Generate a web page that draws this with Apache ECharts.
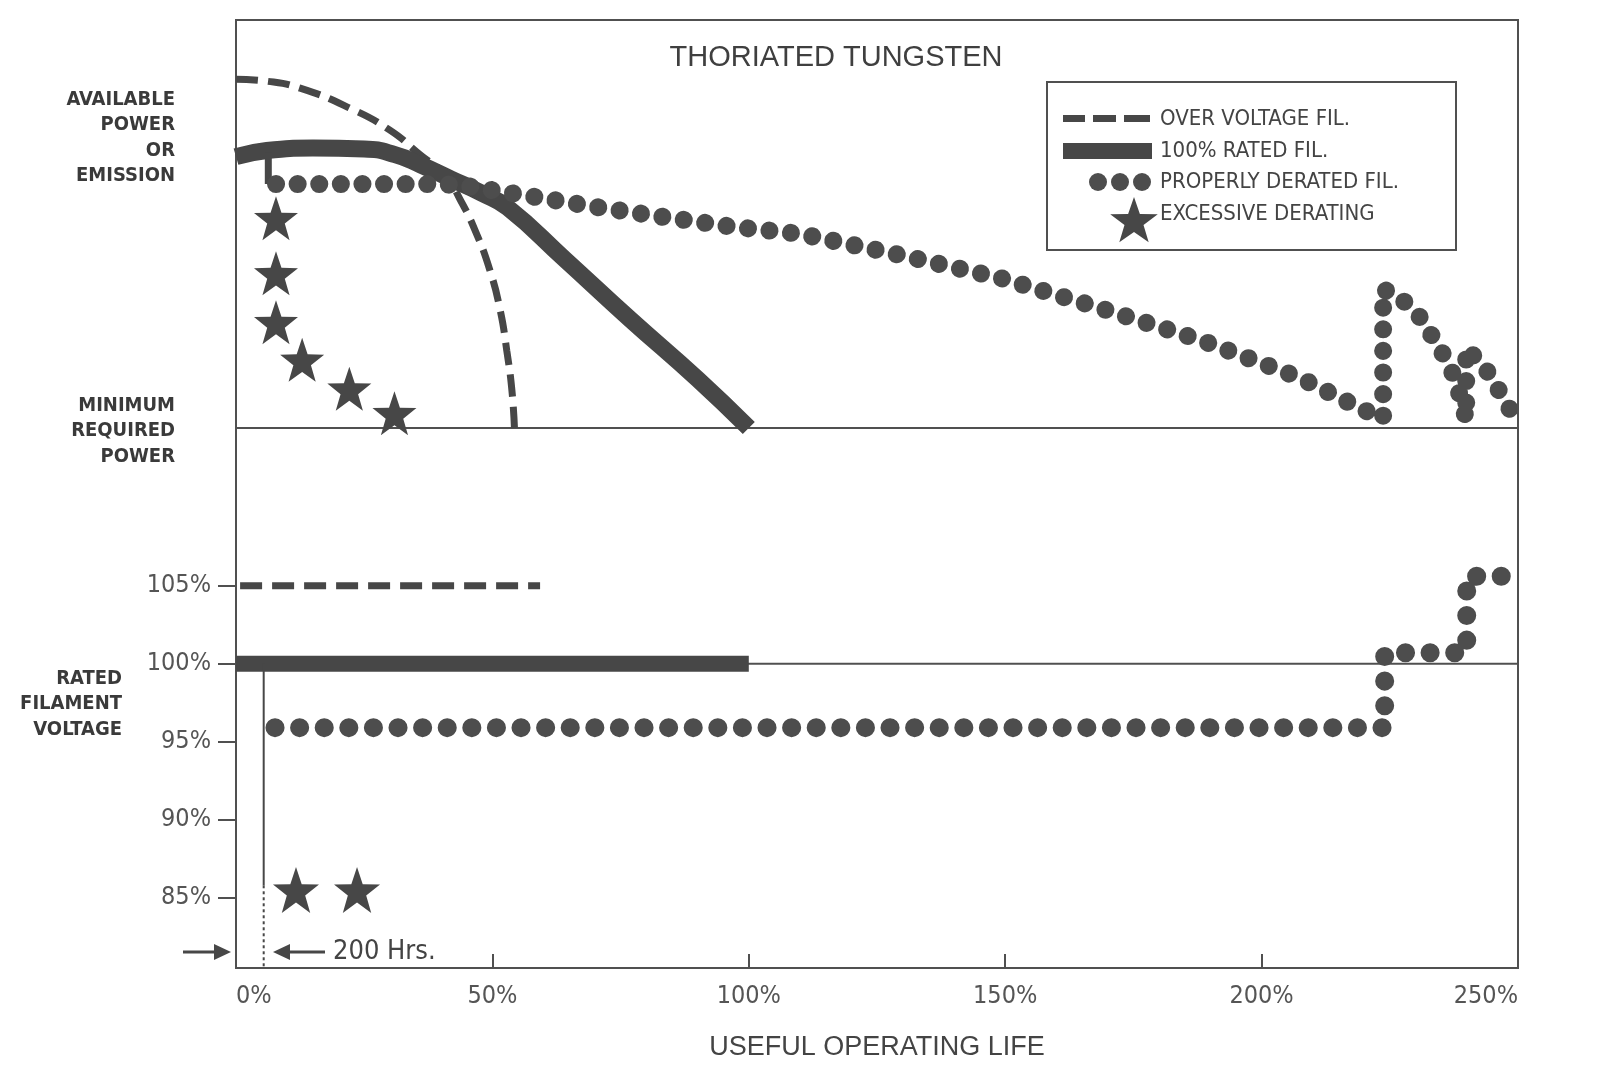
<!DOCTYPE html>
<html>
<head>
<meta charset="utf-8">
<script src="https://cdn.jsdelivr.net/npm/echarts@6/dist/echarts.min.js"></script>
<style>
html,body{margin:0;padding:0;background:#fff;}
#chart{width:1600px;height:1083px;}
</style>
</head>
<body>
<div id="chart"></div>
<script>
// ---------- DATA ----------
const xTicks = [0, 50, 100, 150, 200, 250];
const voltTicks = [85, 90, 95, 100, 105];
const legendNames = ['OVER VOLTAGE FIL.', '100% RATED FIL.', 'PROPERLY DERATED FIL.', 'EXCESSIVE DERATING'];

// upper panel: available power / emission (0 = minimum required power)
const overVoltPower = [[0,85.5],[6,85],[12.5,83.3],[22.2,78.4],[30,73],[35.9,67],[40.8,62],[43.7,56],[46.6,48.5],[49.5,38.7],[51.5,29],[52.8,19],[53.8,9.3],[54.3,0]];
const ratedPower = [[0,66.5],[6,68],[15,68.6],[25,68.4],[31,67],[36,64.5],[42,61],[48,57.5],[53,54],[64,41.5],[77,26.5],[90,12],[100,0]];
const deratedPower = [[7.8,59.8],[25,59.8],[40,59.8],[45,59.3],[57,56.9],[70,54.2],[83,51.8],[97,49.3],[110,47.6],[129.5,42.4],[149,36.8],[168.5,29.4],[188,21.6],[207.5,12.3],[219,5],[223.7,2.2],[223.7,34],[227,32],[231,27],[235,19],[237.7,12.3],[239.9,2.2],[239.9,19.6],[243.6,14.7],[246,9.8],[248.5,4.4]];
const deratedBranch = [[6.3,67.5],[6.3,59.8]];
const excessivePower = [[7.8,51.4],[7.8,37.9],[7.8,25.9],[12.9,16.7],[22.1,9.6],[30.9,3.6]];

// lower panel: filament voltage (% of rated)
const overVoltVoltage = [[0.8,105],[59.3,105]];
const ratedVoltage = [[0,100],[100,100]];
const ratedReference = [[0,100],[250,100]];
const deratedVoltage = [[7.6,95.9],[224,95.9],[224,100.7],[240,100.7],[240,105.6],[248.5,105.6]];
const excessiveVoltage = [[11.7,85.5],[23.6,85.5]];
const hrs200Solid = [[5.4,100],[5.4,85.8]];
const hrs200Dotted = [[5.4,85.8],[5.4,80.5]];

// ---------- STYLE ----------
const C = '#474747';
const AX = '#505050';
const NARROW = '"Liberation Sans Narrow","DejaVu Sans Condensed","Roboto Condensed",sans-serif';
const COND = '"DejaVu Sans Condensed","Liberation Sans Narrow",sans-serif';
const SANS = '"Liberation Sans",Arial,"Helvetica",sans-serif';
const STAR = 'path://M0,-50 L11.8,-16.2 L47.6,-15.5 L19,6.2 L29.4,40.5 L0,20 L-29.4,40.5 L-19,6.2 L-47.6,-15.5 L-11.8,-16.2 Z';

function starPoints(cx, cy, R) {
  const pts = [];
  const r = R * 0.40;
  for (let i = 0; i < 10; i++) {
    const a = -Math.PI / 2 + i * Math.PI / 5;
    const rr = i % 2 === 0 ? R : r;
    pts.push([cx + rr * Math.cos(a), cy + rr * Math.sin(a)]);
  }
  return pts;
}

const chart = echarts.init(document.getElementById('chart'), null, {renderer: 'canvas'});

const option = {
  backgroundColor: '#fff',
  animation: false,
  title: {
    text: 'THORIATED TUNGSTEN',
    left: 831, top: 38, textAlign: 'center',
    textStyle: {fontFamily: SANS, fontSize: 29, fontWeight: 'normal', color: '#3f3f3f'}
  },
  grid: [
    {left: 236, right: 82, top: 20, height: 408, show: true, borderColor: AX, borderWidth: 2, backgroundColor: 'transparent'},
    {left: 236, right: 82, top: 428, height: 540, show: true, borderColor: AX, borderWidth: 2, backgroundColor: 'transparent'}
  ],
  xAxis: [
    {type: 'value', gridIndex: 0, min: 0, max: 250, show: false},
    {type: 'value', gridIndex: 1, min: 0, max: 250, interval: 50,
     name: 'USEFUL OPERATING LIFE', nameLocation: 'middle', nameGap: 66,
     nameTextStyle: {fontFamily: SANS, fontSize: 27, color: '#444', fontWeight: 'normal'},
     axisLine: {show: false},
     axisTick: {show: true, inside: true, length: 14, lineStyle: {color: AX, width: 2}},
     splitLine: {show: false},
     axisLabel: {margin: 16, fontFamily: NARROW, fontSize: 25, color: '#555',
                 formatter: v => v + '%', alignMinLabel: 'left', alignMaxLabel: 'right',
                 customValues: xTicks}
    }
  ],
  yAxis: [
    {type: 'value', gridIndex: 0, min: 0, max: 100, show: false},
    {type: 'value', gridIndex: 1, min: 80.5, max: 115.1,
     axisLine: {show: false},
     splitLine: {show: false},
     axisTick: {show: true, length: 18, lineStyle: {color: AX, width: 2}, customValues: voltTicks},
     axisLabel: {margin: 25, fontFamily: NARROW, fontSize: 25, color: '#555',
                 formatter: v => v + '%', customValues: voltTicks}
    }
  ],
  series: [
    {name: legendNames[0], type: 'line', xAxisIndex: 0, yAxisIndex: 0, data: overVoltPower,
     smooth: true, symbol: 'none', lineStyle: {color: C, width: 7, type: [22, 10]}},
    {name: legendNames[1], type: 'line', xAxisIndex: 0, yAxisIndex: 0, data: ratedPower,
     smooth: true, symbol: 'none', lineStyle: {color: C, width: 17, cap: 'butt'}},
    {name: legendNames[2], type: 'line', xAxisIndex: 0, yAxisIndex: 0, data: deratedBranch,
     symbol: 'none', lineStyle: {color: C, width: 7}},
    {name: legendNames[2], type: 'line', xAxisIndex: 0, yAxisIndex: 0, data: deratedPower,
     smooth: false, symbol: 'none', lineStyle: {color: '#4d4d4d', width: 18, type: [0.1, 21.5], cap: 'round'}},
    {name: legendNames[3], type: 'scatter', xAxisIndex: 0, yAxisIndex: 0, data: excessivePower,
     symbol: STAR, symbolSize: 44, itemStyle: {color: C, opacity: 1}},

    {name: 'rated reference', type: 'line', xAxisIndex: 1, yAxisIndex: 1, data: ratedReference,
     symbol: 'none', lineStyle: {color: AX, width: 2}},
    {name: legendNames[0], type: 'line', xAxisIndex: 1, yAxisIndex: 1, data: overVoltVoltage,
     symbol: 'none', lineStyle: {color: C, width: 7, type: [22, 10]}},
    {name: legendNames[1], type: 'line', xAxisIndex: 1, yAxisIndex: 1, data: ratedVoltage,
     symbol: 'none', lineStyle: {color: C, width: 16}},
    {name: '200 Hrs', type: 'line', xAxisIndex: 1, yAxisIndex: 1, data: hrs200Solid,
     symbol: 'none', lineStyle: {color: C, width: 2}},
    {name: '200 Hrs', type: 'line', xAxisIndex: 1, yAxisIndex: 1, data: hrs200Dotted,
     symbol: 'none', lineStyle: {color: C, width: 2, type: [3, 3]}},
    {name: legendNames[2], type: 'line', xAxisIndex: 1, yAxisIndex: 1, data: deratedVoltage,
     smooth: false, symbol: 'none', lineStyle: {color: '#4d4d4d', width: 19, type: [0.1, 24.5], cap: 'round'}},
    {name: legendNames[3], type: 'scatter', xAxisIndex: 1, yAxisIndex: 1, data: excessiveVoltage,
     symbol: STAR, symbolSize: 46, itemStyle: {color: C, opacity: 1}}
  ],
  graphic: [
    // left side labels
    {type: 'text', style: {text: 'AVAILABLE\nPOWER\nOR\nEMISSION', x: 175, y: 87, textAlign: 'right',
      font: 'bold 20px ' + COND, lineHeight: 25.5, fill: '#3a3a3a'}},
    {type: 'text', style: {text: 'MINIMUM\nREQUIRED\nPOWER', x: 175, y: 393, textAlign: 'right',
      font: 'bold 20px ' + COND, lineHeight: 25.5, fill: '#3a3a3a'}},
    {type: 'text', style: {text: 'RATED\nFILAMENT\nVOLTAGE', x: 122, y: 666, textAlign: 'right',
      font: 'bold 20px ' + COND, lineHeight: 25.5, fill: '#3a3a3a'}},
    // legend box
    {type: 'rect', shape: {x: 1047, y: 82, width: 409, height: 168},
      style: {fill: '#fff', stroke: AX, lineWidth: 2}, z: 100},
    {type: 'rect', shape: {x: 1063, y: 115, width: 22, height: 7}, style: {fill: C}, z: 101},
    {type: 'rect', shape: {x: 1093, y: 115, width: 23, height: 7}, style: {fill: C}, z: 101},
    {type: 'rect', shape: {x: 1124, y: 115, width: 26, height: 7}, style: {fill: C}, z: 101},
    {type: 'rect', shape: {x: 1063, y: 143, width: 89, height: 16}, style: {fill: C}, z: 101},
    {type: 'circle', shape: {cx: 1098, cy: 182, r: 9}, style: {fill: '#4d4d4d'}, z: 101},
    {type: 'circle', shape: {cx: 1120, cy: 182, r: 9}, style: {fill: '#4d4d4d'}, z: 101},
    {type: 'circle', shape: {cx: 1142, cy: 182, r: 9}, style: {fill: '#4d4d4d'}, z: 101},
    {type: 'polygon', shape: {points: starPoints(1134, 222, 25)}, style: {fill: C}, z: 101},
    {type: 'text', style: {text: legendNames[0], x: 1160, y: 119, textVerticalAlign: 'middle',
      font: '22px ' + NARROW, fill: '#444'}, z: 101},
    {type: 'text', style: {text: legendNames[1], x: 1160, y: 151, textVerticalAlign: 'middle',
      font: '22px ' + NARROW, fill: '#444'}, z: 101},
    {type: 'text', style: {text: legendNames[2], x: 1160, y: 182, textVerticalAlign: 'middle',
      font: '22px ' + NARROW, fill: '#444'}, z: 101},
    {type: 'text', style: {text: legendNames[3], x: 1160, y: 214, textVerticalAlign: 'middle',
      font: '22px ' + NARROW, fill: '#444'}, z: 101},
    // 200 Hrs annotation
    {type: 'line', shape: {x1: 183, y1: 952, x2: 218, y2: 952}, style: {stroke: C, lineWidth: 3}},
    {type: 'polygon', shape: {points: [[214, 944], [231, 952], [214, 960]]}, style: {fill: C}},
    {type: 'line', shape: {x1: 288, y1: 952, x2: 325, y2: 952}, style: {stroke: C, lineWidth: 3}},
    {type: 'polygon', shape: {points: [[290, 944], [273, 952], [290, 960]]}, style: {fill: C}},
    {type: 'text', style: {text: '200 Hrs.', x: 333, y: 952, textVerticalAlign: 'middle',
      font: '27px ' + NARROW, fill: '#444'}}
  ]
};
chart.setOption(option);
</script>
</body>
</html>
